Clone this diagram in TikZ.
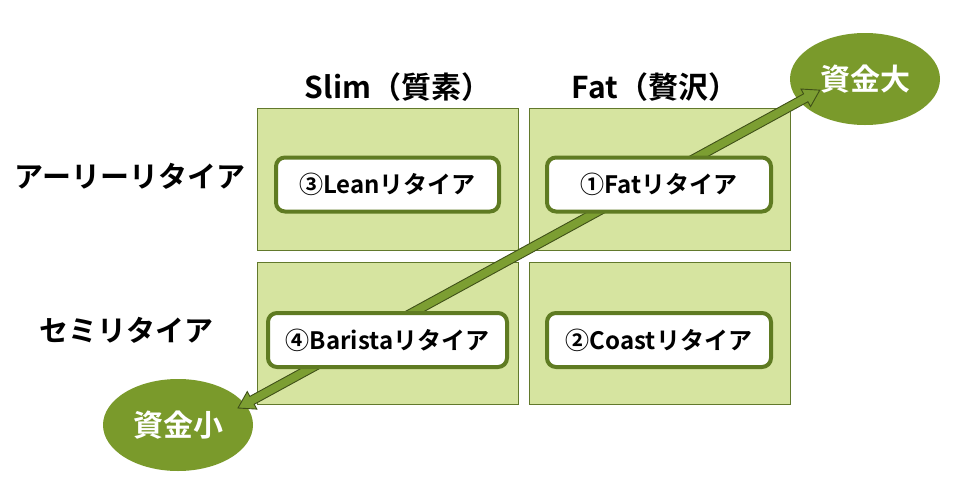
\documentclass[tikz,border=0pt]{standalone}
\usepackage{fontspec}
\setmainfont{Noto Sans CJK JP}[BoldFont={Noto Sans CJK JP Bold}]
\usetikzlibrary{shapes.geometric,calc}
\definecolor{cellfill}{HTML}{D6E4A0}
\definecolor{celldraw}{HTML}{62792C}
\definecolor{boxdraw}{HTML}{5F7B22}
\definecolor{ellfill}{HTML}{7A9A2B}
\definecolor{arrfill}{HTML}{7C9E32}
\definecolor{arrdraw}{HTML}{3F5018}
\tikzset{
  cell/.style={draw=celldraw, fill=cellfill, line width=1pt},
  labbox/.style={draw=boxdraw, fill=white, line width=4pt, rounded corners=9pt, inner sep=0pt, font=\bfseries\fontsize{24}{28}\selectfont},
  money/.style={ellipse, fill=ellfill, inner sep=0pt, text=white, font=\bfseries\fontsize{30}{34}\selectfont},
  colhead/.style={font=\bfseries\fontsize{30}{34}\selectfont},
  rowhead/.style={font=\bfseries\fontsize{29}{33}\selectfont},
}
\begin{document}
\begin{tikzpicture}[x=1pt,y=-1pt]
\useasboundingbox (0,0) rectangle (954,488);
% cells
\draw[cell] (257,108) rectangle (518,250);
\draw[cell] (529,108) rectangle (790,250);
\draw[cell] (257,262) rectangle (518,404);
\draw[cell] (529,262) rectangle (790,404);
% headers
\node[colhead] (slim) at (398,87) {Slim（質素）};
\node[colhead] (fat) at (655,87) {Fat（贅沢）};
\node[rowhead] (early) at (130,176) {アーリーリタイア};
\node[rowhead] (semi) at (126,330) {セミリタイア};
% ellipses
\node[money, minimum width=150pt, minimum height=92pt] (big) at (865,79) {資金大};
\node[money, minimum width=150pt, minimum height=92pt] (small) at (178,425) {資金小};
% arrow
\coordinate (a1) at (238,408);
\coordinate (a2) at (820,90);
\begin{scope}[shift={(a1)}, x=1pt, y=1pt, rotate=28.65]
\filldraw[fill=arrfill, draw=arrdraw, line width=0.9pt, line join=miter]
  (0,0) -- (16,10) -- (16,4.5) -- (647,4.5) -- (647,10) -- (663,0) -- (647,-10) -- (647,-4.5) -- (16,-4.5) -- (16,-10) -- cycle;
\end{scope}
% label boxes
\node[labbox, minimum width=223pt, minimum height=54pt] (lean) at (387.5,184.5) {③Leanリタイア};
\node[labbox, minimum width=224pt, minimum height=54pt] (fatr) at (659,184.5) {①Fatリタイア};
\node[labbox, minimum width=239pt, minimum height=54pt] (bar) at (387.5,340) {④Baristaリタイア};
\node[labbox, minimum width=224pt, minimum height=54pt] (coast) at (659,340) {②Coastリタイア};
\end{tikzpicture}
\end{document}
